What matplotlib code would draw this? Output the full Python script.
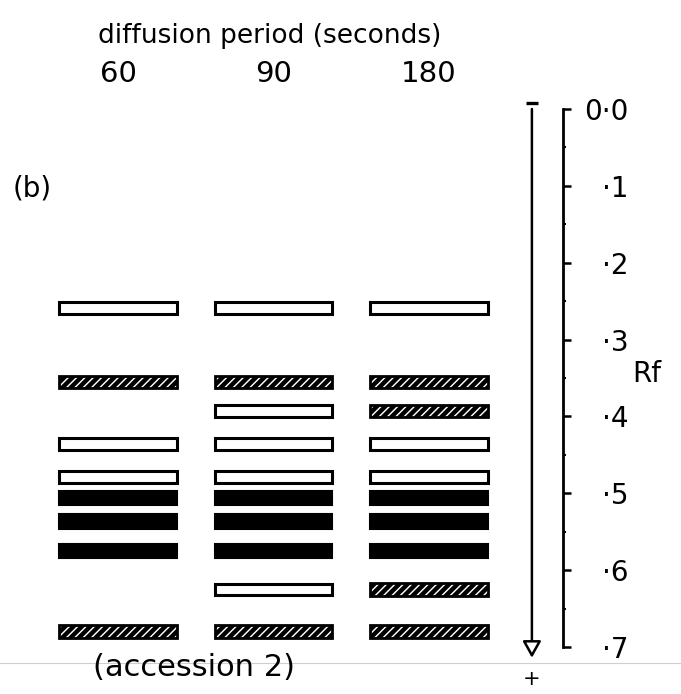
import matplotlib
matplotlib.use('Agg')
import matplotlib.pyplot as plt
from matplotlib.patches import FancyArrowPatch

# ---------------- data ----------------
columns = ['60', '90', '180']
title = 'diffusion period (seconds)'
panel = '(b)'
footer = '(accession 2)'

rf_60 = [0.259, 0.355, 0.436, 0.479, 0.506, 0.537, 0.575, 0.680]
st_60 = ['open', 'hatch', 'open', 'open', 'solid', 'solid', 'solid', 'hatch']

rf_90 = [0.259, 0.355, 0.393, 0.436, 0.479, 0.506, 0.537, 0.575, 0.625, 0.680]
st_90 = ['open', 'hatch', 'open', 'open', 'open', 'solid', 'solid', 'solid', 'open', 'hatch']

rf_180 = [0.259, 0.355, 0.393, 0.436, 0.479, 0.506, 0.537, 0.575, 0.625, 0.680]
st_180 = ['open', 'hatch', 'hatch', 'open', 'open', 'solid', 'solid', 'solid', 'hatch', 'hatch']

rf_ticks = [0.0, 0.1, 0.2, 0.3, 0.4, 0.5, 0.6, 0.7]
rf_ticklabels = ['0·0', '·1', '·2', '·3', '·4', '·5', '·6', '·7']
rf_minor = [0.05, 0.15, 0.25, 0.35, 0.45, 0.55, 0.65]

# ---------------- figure ----------------
W, H = 681, 694
plt.rcParams['font.family'] = ['DejaVu Sans']
plt.rcParams['hatch.linewidth'] = 3.2
fig = plt.figure(figsize=(W / 100, H / 100), dpi=100)
fig.patch.set_facecolor('white')

ax = fig.add_axes([0, 1 - 647 / H, 563 / W, (647 - 109) / H])
ax.set_ylim(0.7, 0.0)
ax.set_xlim(-0.759, 2.862)
for s in ['left', 'top', 'bottom']:
    ax.spines[s].set_visible(False)
ax.spines['right'].set_linewidth(2.0)
ax.set_facecolor('none')
ax.set_xticks([])
ax.yaxis.tick_right()
ax.set_yticks(rf_ticks)
ax.set_yticklabels(rf_ticklabels, fontsize=20)
ax.set_yticks(rf_minor, minor=True)
ax.tick_params(axis='y', which='major', direction='out', length=6, width=1.8, pad=41)
ax.tick_params(axis='y', which='minor', direction='out', length=2.5, width=1.5)
for lab in ax.get_yticklabels():
    lab.set_horizontalalignment('right')

bar_w = 0.756
styles = {
    'open': dict(facecolor='white', edgecolor='black', linewidth=2.2, hatch=None, h=0.0150),
    'hatch': dict(facecolor='white', edgecolor='black', linewidth=2.0, hatch='////', h=0.0165),
    'solid': dict(facecolor='black', edgecolor='black', linewidth=1.5, hatch=None, h=0.0190),
}
for ci, (rfs, sts) in enumerate([(rf_60, st_60), (rf_90, st_90), (rf_180, st_180)]):
    for rf, st in zip(rfs, sts):
        s = styles[st]
        ax.barh(rf, bar_w, height=s['h'], left=ci - bar_w / 2,
                facecolor=s['facecolor'], edgecolor=s['edgecolor'],
                linewidth=s['linewidth'], hatch=s['hatch'])

# column headings
for ci, c in enumerate(columns):
    ax.text(ci, -0.045, c, ha='center', va='center', fontsize=21, clip_on=False)
fig.text(98 / W, 1 - 36 / H, title, ha='left', va='center', fontsize=19)
fig.text(13 / W, 1 - 188 / H, panel, ha='left', va='center', fontsize=20)
fig.text(194 / W, 1 - 667 / H, footer, ha='center', va='center', fontsize=22)

# Rf label
ax.annotate('Rf', xy=(1.0, 0.345), xycoords=('axes fraction', 'data'),
            xytext=(50, 0), textcoords='offset points', ha='left', va='center',
            fontsize=20, annotation_clip=False)

# electrophoresis direction arrow
xa = 2.662
arr = FancyArrowPatch((xa, 0.0), (xa, 0.714), arrowstyle='-|>,head_length=0.5,head_width=0.28',
                      mutation_scale=20, facecolor='white', edgecolor='black', linewidth=1.8,
                      clip_on=False, shrinkA=0, shrinkB=0)
ax.add_patch(arr)
ax.plot([xa - 0.04, xa + 0.04], [-0.008, -0.008], color='black', linewidth=2.4, clip_on=False,
        solid_capstyle='butt')
ax.text(xa, 0.742, '+', ha='center', va='center', fontsize=15, clip_on=False)

# faint scan line
fig.add_artist(plt.Line2D([0, 1], [1 - 663 / H, 1 - 663 / H], color='#cfcfcf', linewidth=0.8,
                          transform=fig.transFigure))

fig.savefig('out.png', dpi=100, facecolor='white')
